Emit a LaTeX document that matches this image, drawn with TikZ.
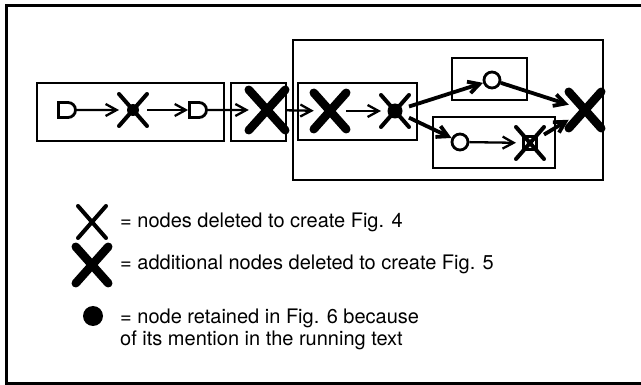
\documentclass[tikz,border=0pt]{standalone}
\usepackage{fontspec}
\setmainfont{TeX Gyre Heros}
\usetikzlibrary{fit, positioning, shapes.misc, arrows.meta}

\begin{document}
\begin{tikzpicture}
    [
        x=1pt, y=-1pt,
        group/.style={rectangle, draw, line width=2.8pt, inner sep=0pt},
        opendot/.style={rounded rectangle, rounded rectangle left arc=none,
                        draw, line width=2.8pt, minimum width=17pt,
                        minimum height=15pt, inner sep=0pt},
        ring/.style={circle, draw, line width=2.8pt, minimum size=16pt, inner sep=0pt},
        blob/.style={circle, fill, minimum size=#1, inner sep=0pt},
        thinx/.style={cross out, draw, line width=4pt, line cap=round,
                      minimum width=24pt, minimum height=28pt, inner sep=0pt},
        boldx/.style={thinx, line width=8.5pt},
        link/.style={-{Straight Barb[length=11pt, width=12pt]}, line width=2.3pt},
        heavy/.style={link, line width=3.8pt},
        legend/.style={inner sep=0pt, font=\fontsize{20}{22}\selectfont}
    ]
    \useasboundingbox (0,0) rectangle (641,385);
    \draw [line width=3pt] (641,6) -- (6,6) -- (6,383) -- (641,383);

    % the chain of nodes
    \node (a) [opendot] at (67,110) {};
    \node (bdot) [blob=12pt] at (133,110) {};
    \node (b) [thinx] at (bdot) {};
    \node (c) [opendot] at (198,110) {};
    \node (d) [boldx, minimum width=28pt, minimum height=32pt] at (267,110) {};
    \node (e) [boldx] at (330,111) {};
    \node (fdot) [blob=15pt] at (395,111) {};
    \node (f) [thinx] at (fdot) {};
    \node (g) [ring] at (492,80) {};
    \node (h) [ring] at (460,142) {};
    \node (idot) [rectangle, draw, line width=2.8pt, minimum size=13pt] at (530,143) {};
    \node (i) [thinx] at (idot) {};
    \node (j) [boldx] at (585,110) {};

    \foreach \p/\q in {a/b,b/c,c/d,d/e,e/f,h/i}
        \draw [link] (\p) -- (\q);
    \foreach \p/\q in {f/g,f/h,g/j,i/j}
        \draw [heavy] (\p) -- (\q);

    % groups
    \node (boxA) [group, fit={(37,83) (224,141)}] {};
    \node (boxB) [group, fit={(231,83) (286,141)}] {};
    \node (boxC) [group, fit={(293,40) (603,180)}] {};
    \node (boxD) [group, fit={(298,83) (417,140)}] {};
    \node (boxE) [group, fit={(452,58) (527,100)}] {};
    \node (boxF) [group, fit={(433,117) (555,168)}] {};

    % key
    \node (kx) [thinx] at (92,222) {};
    \node (kbx) [boldx] at (92,265) {};
    \node (kdot) [blob=20pt] at (93,316) {};
    \node (t1) [legend, anchor=base west] at (120,228) {= nodes deleted to create Fig. 4};
    \node (t2) [legend, anchor=base west] at (120,270) {= additional nodes deleted to create Fig. 5};
    \node (t3) [legend, anchor=north west, align=left] at (120,308.5)
        {= node retained in Fig. 6 because\\of its mention in the running text};
\end{tikzpicture}
\end{document}
